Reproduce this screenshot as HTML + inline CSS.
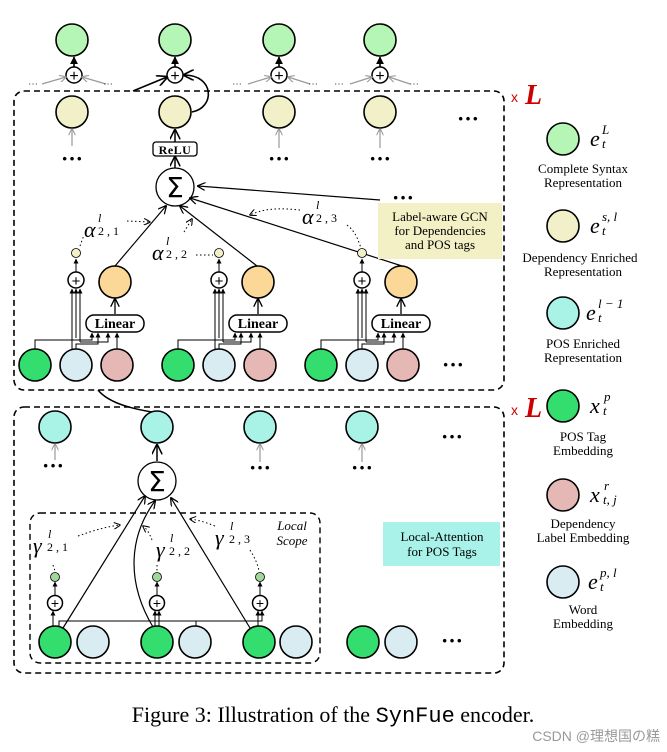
<!DOCTYPE html>
<html><head><meta charset="utf-8"><style>
body{margin:0;background:#fff;}
svg{display:block;font-family:"Liberation Serif",serif;}
</style></head><body>
<svg width="667" height="752" viewBox="0 0 667 752" xmlns="http://www.w3.org/2000/svg">
<defs>
<marker id="a" viewBox="0 0 10 10" refX="9" refY="5" markerWidth="7" markerHeight="7" orient="auto"><path d="M0,0 L10,5 L0,10" fill="none" stroke="#000" stroke-width="1.5"/></marker>
<marker id="g" viewBox="0 0 10 10" refX="9" refY="5" markerWidth="6" markerHeight="6" orient="auto"><path d="M0,0 L10,5 L0,10" fill="none" stroke="#999" stroke-width="1.5"/></marker>
<marker id="f" viewBox="0 0 10 10" refX="9" refY="5" markerWidth="5" markerHeight="5" orient="auto"><path d="M0,0 L10,5 L0,10z" fill="#000"/></marker>
</defs>
<rect x="14" y="91" width="490" height="299" rx="10" fill="none" stroke="#000" stroke-width="1.6" stroke-dasharray="6,4"/>
<rect x="14" y="407" width="490" height="266" rx="10" fill="none" stroke="#000" stroke-width="1.6" stroke-dasharray="6,4"/>
<rect x="30" y="513" width="290" height="150" rx="10" fill="none" stroke="#000" stroke-width="1.4" stroke-dasharray="6,4"/>
<text x="511" y="102" font-family="Liberation Sans" font-size="14" fill="#c00">x</text>
<text x="525" y="104" font-size="28" font-weight="bold" font-style="italic" fill="#c00">L</text>
<text x="511" y="415" font-family="Liberation Sans" font-size="14" fill="#c00">x</text>
<text x="525" y="417" font-size="28" font-weight="bold" font-style="italic" fill="#c00">L</text>

<g stroke="#000" stroke-width="1.6">
<circle cx="72" cy="40" r="16" fill="#b5f5b5"/><circle cx="175" cy="40" r="16" fill="#b5f5b5"/><circle cx="279" cy="40" r="16" fill="#b5f5b5"/><circle cx="380" cy="40" r="16" fill="#b5f5b5"/>
<circle cx="72" cy="112" r="16" fill="#f2f0c8"/><circle cx="175" cy="112" r="16" fill="#f2f0c8"/><circle cx="279" cy="112" r="16" fill="#f2f0c8"/><circle cx="380" cy="112" r="16" fill="#f2f0c8"/>
</g>
<g stroke="#000" stroke-width="1.5" fill="#fff">
<circle cx="74" cy="75" r="8"/><circle cx="175" cy="75" r="8"/><circle cx="279" cy="75" r="8"/><circle cx="380" cy="75" r="8"/>
</g>
<g font-size="16" text-anchor="middle" font-family="Liberation Sans"><text x="74" y="81">+</text><text x="175" y="81">+</text><text x="279" y="81">+</text><text x="380" y="81">+</text></g>
<g stroke="#000" stroke-width="1.6" marker-end="url(#f)">
<line x1="74" y1="67" x2="74" y2="57"/><line x1="175" y1="67" x2="175" y2="57"/><line x1="279" y1="67" x2="279" y2="57"/><line x1="380" y1="67" x2="380" y2="57"/>
</g>
<g stroke="#999" stroke-width="1.2" marker-end="url(#g)">
<line x1="42" y1="84" x2="66" y2="77"/><line x1="106" y1="84" x2="82" y2="77"/>
<line x1="248" y1="84" x2="271" y2="77"/><line x1="310" y1="84" x2="288" y2="77"/>
<line x1="350" y1="84" x2="372" y2="77"/><line x1="410" y1="84" x2="389" y2="77"/>
<line x1="72" y1="146" x2="72" y2="129"/><line x1="279" y1="148" x2="279" y2="129"/><line x1="380" y1="148" x2="380" y2="129"/>
</g>
<g fill="#333" font-size="10"><text x="28" y="87">⋯</text><text x="103" y="87">⋯</text><text x="232" y="87">⋯</text><text x="308" y="87">⋯</text><text x="334" y="87">⋯</text><text x="409" y="87">⋯</text></g>
<path d="M133,91 L167,77" stroke="#000" stroke-width="1.6" fill="none" marker-end="url(#a)"/>
<path d="M192,112 C215,108 215,75 184,75" stroke="#000" stroke-width="1.6" fill="none" marker-end="url(#a)"/>
<g font-size="22" font-weight="bold" text-anchor="middle"><text x="72" y="166">···</text><text x="279" y="166">···</text><text x="380" y="166">···</text><text x="468" y="126">···</text><text x="403" y="205">···</text><text x="453" y="372">···</text>
<text x="53" y="473">···</text><text x="260" y="475">···</text><text x="362" y="475">···</text><text x="452" y="444">···</text><text x="452" y="648">···</text></g>
<line x1="175" y1="142" x2="175" y2="130" stroke="#000" stroke-width="1.5" marker-end="url(#a)"/>
<rect x="153" y="142" width="44" height="14" rx="3" fill="#fff" stroke="#000" stroke-width="1.3"/>
<text x="175" y="154" font-size="12" font-weight="bold" text-anchor="middle" letter-spacing="0.5">ReLU</text>
<line x1="175" y1="168" x2="175" y2="157" stroke="#000" stroke-width="1.5" marker-end="url(#a)"/>
<circle cx="175" cy="187" r="19" fill="#fff" stroke="#000" stroke-width="1.3"/>
<text x="175" y="197" font-size="28" font-family="DejaVu Sans" text-anchor="middle">Σ</text>
<g stroke="#000" stroke-width="1.2" fill="none" marker-end="url(#a)">
<line x1="380" y1="200" x2="198" y2="186"/>
<line x1="115" y1="266" x2="166" y2="206"/>
<line x1="257" y1="266" x2="180" y2="206"/>
<line x1="402" y1="266" x2="190" y2="198"/>
</g>
<g stroke="#000" stroke-width="1" fill="none" stroke-dasharray="1.5,2.5" marker-end="url(#a)">
<path d="M127,221 L150,222"/><path d="M184,232 L192,219"/><path d="M300,210 C280,208 265,208 250,215"/>
</g>
<g stroke="#000" stroke-width="1" fill="none" stroke-dasharray="1.5,2.5">
<path d="M80,246 L84,235"/><path d="M196,255 L213,255"/><path d="M347,225 C356,232 358,240 361,248"/>
</g>
<g font-style="italic"><text x="84" y="237" font-size="22">α</text><text x="152" y="260" font-size="22">α</text><text x="302" y="224" font-size="22">α</text></g>
<g font-size="12"><text x="98" y="222" font-style="italic">l</text><text x="98" y="235">2 , 1</text><text x="166" y="245" font-style="italic">l</text><text x="166" y="258">2 , 2</text><text x="316" y="209" font-style="italic">l</text><text x="316" y="222">2 , 3</text></g>
<rect x="378" y="203" width="124" height="56" fill="#f3f0c6"/>
<g font-size="13" text-anchor="middle"><text x="440" y="221">Label-aware GCN</text><text x="440" y="235">for Dependencies</text><text x="440" y="249">and POS tags</text></g>
<g id="unit">
<g stroke="#000" stroke-width="1">
<polyline points="35,349 35,340 72,340" fill="none"/>
<line x1="72" y1="349" x2="72" y2="289" marker-end="url(#f)"/><line x1="76" y1="338" x2="76" y2="289" marker-end="url(#f)"/><line x1="80" y1="342" x2="80" y2="289" marker-end="url(#f)"/>
<polyline points="76,349 76,344 98,344 98,333" fill="none" marker-end="url(#f)"/>
<polyline points="80,342 108,342 108,333" fill="none" marker-end="url(#f)"/>
<polyline points="35,340 92,340 92,333" fill="none" marker-end="url(#f)"/>
<line x1="117" y1="349" x2="117" y2="333" marker-end="url(#f)"/>
<line x1="76" y1="272" x2="76" y2="259" marker-end="url(#f)"/>
<line x1="115" y1="314" x2="115" y2="299" stroke-width="1.3" marker-end="url(#a)"/>
</g>
<rect x="86" y="315" width="58" height="17" rx="8" fill="#fff" stroke="#000" stroke-width="1.5"/>
<text x="115" y="328" font-size="14" font-weight="bold" text-anchor="middle">Linear</text>
<circle cx="76" cy="280" r="8" fill="#fff" stroke="#000" stroke-width="1.5"/>
<text x="76" y="286" font-size="15" text-anchor="middle" font-family="Liberation Sans">+</text>
<circle cx="76" cy="253" r="4.5" fill="#f2f0c8" stroke="#000" stroke-width="0.8"/>
<circle cx="115" cy="282" r="16" fill="#fbd898" stroke="#000" stroke-width="1.6"/>
<circle cx="35" cy="365" r="16" fill="#33dd6e" stroke="#000" stroke-width="1.6"/>
<circle cx="76" cy="365" r="16" fill="#d9ecf2" stroke="#000" stroke-width="1.6"/>
<circle cx="117" cy="365" r="16" fill="#e5b8b5" stroke="#000" stroke-width="1.6"/>
</g>
<use href="#unit" x="143"/>
<use href="#unit" x="286"/>
<path d="M98,390 C110,405 140,410 152,412" stroke="#000" stroke-width="1.5" fill="none"/>
<g stroke="#000" stroke-width="1.6" fill="#a8f2e6">
<circle cx="55" cy="427" r="16"/><circle cx="157" cy="427" r="16"/><circle cx="260" cy="427" r="16"/><circle cx="362" cy="427" r="16"/>
</g>
<g stroke="#999" stroke-width="1.2" marker-end="url(#g)">
<line x1="55" y1="460" x2="55" y2="444"/><line x1="260" y1="462" x2="260" y2="444"/><line x1="362" y1="462" x2="362" y2="444"/>
</g>
<line x1="157" y1="461" x2="157" y2="445" stroke="#000" stroke-width="1.5" marker-end="url(#a)"/>
<circle cx="157" cy="481" r="19" fill="#fff" stroke="#000" stroke-width="1.3"/>
<text x="157" y="491" font-size="28" font-family="DejaVu Sans" text-anchor="middle">Σ</text>
<g stroke="#000" stroke-width="1.2" fill="none" marker-end="url(#a)">
<line x1="63" y1="628" x2="145" y2="496"/>
<path d="M153,627 C125,580 130,535 155,501"/>
<line x1="250" y1="628" x2="171" y2="498"/>
</g>
<g stroke="#000" stroke-width="1" fill="none" stroke-dasharray="1.5,2.5">
<path d="M78,536 C95,530 105,527 120,525" marker-end="url(#a)"/>
<path d="M152,540 C150,535 148,530 143,526" marker-end="url(#a)"/>
<path d="M215,526 C205,522 198,520 190,519" marker-end="url(#a)"/>
<path d="M53,565 L55,571"/><path d="M157,565 L157,571"/><path d="M250,550 C255,558 258,565 259,571"/>
</g>
<g font-style="italic" font-size="22"><text x="33" y="553">γ</text><text x="156" y="557">γ</text><text x="215" y="545">γ</text></g>
<g font-size="12"><text x="48" y="538" font-style="italic">l</text><text x="47" y="551">2 , 1</text><text x="170" y="542" font-style="italic">l</text><text x="169" y="555">2 , 2</text><text x="230" y="530" font-style="italic">l</text><text x="229" y="543">2 , 3</text></g>
<g font-style="italic" font-size="13" text-anchor="middle"><text x="292" y="530">Local</text><text x="292" y="545">Scope</text></g>
<rect x="383" y="522" width="117" height="44" fill="#a8f2ea"/>
<g font-size="13" text-anchor="middle"><text x="442" y="541">Local-Attention</text><text x="442" y="556">for POS Tags</text></g>
<g stroke="#000" stroke-width="1">
<polyline points="59,626 59,621 262,621 262,611" fill="none" marker-end="url(#f)"/>
<line x1="196" y1="626" x2="196" y2="621"/>
<line x1="53" y1="626" x2="53" y2="611" marker-end="url(#f)"/><line x1="155" y1="626" x2="155" y2="611" marker-end="url(#f)"/><line x1="159" y1="626" x2="159" y2="611" marker-end="url(#f)"/><line x1="258" y1="626" x2="258" y2="611" marker-end="url(#f)"/>
<line x1="55" y1="596" x2="55" y2="582" marker-end="url(#f)"/><line x1="157" y1="596" x2="157" y2="582" marker-end="url(#f)"/><line x1="260" y1="596" x2="260" y2="582" marker-end="url(#f)"/>
</g>
<g stroke="#000" stroke-width="1.5" fill="#fff"><circle cx="55" cy="603" r="7.5"/><circle cx="157" cy="603" r="7.5"/><circle cx="260" cy="603" r="7.5"/></g>
<g font-size="14" text-anchor="middle" font-family="Liberation Sans"><text x="55" y="608">+</text><text x="157" y="608">+</text><text x="260" y="608">+</text></g>
<g stroke="#000" stroke-width="0.8" fill="#9fd89a"><circle cx="55" cy="577" r="4.5"/><circle cx="157" cy="577" r="4.5"/><circle cx="260" cy="577" r="4.5"/></g>
<g stroke="#000" stroke-width="1.6">
<circle cx="55" cy="642" r="16" fill="#33dd6e"/><circle cx="93" cy="642" r="16" fill="#d9ecf2"/>
<circle cx="157" cy="642" r="16" fill="#33dd6e"/><circle cx="195" cy="642" r="16" fill="#d9ecf2"/>
<circle cx="259" cy="642" r="16" fill="#33dd6e"/><circle cx="296" cy="642" r="16" fill="#d9ecf2"/>
<circle cx="363" cy="642" r="16" fill="#33dd6e"/><circle cx="401" cy="642" r="16" fill="#d9ecf2"/>
</g>
<g stroke="#000" stroke-width="1.6">
<circle cx="563" cy="139" r="16" fill="#b5f5b5"/><circle cx="563" cy="226" r="16" fill="#f2f0c8"/><circle cx="563" cy="313" r="16" fill="#a8f2e6"/>
<circle cx="563" cy="406" r="16" fill="#33dd6e"/><circle cx="563" cy="495" r="16" fill="#e5b8b5"/><circle cx="563" cy="582" r="16" fill="#d9ecf2"/>
</g>
<g font-style="italic" font-size="22"><text x="590" y="146">e</text><text x="590" y="233">e</text><text x="586" y="320">e</text><text x="590" y="413">x</text><text x="590" y="502">x</text><text x="588" y="589">e</text></g>
<g font-style="italic" font-size="13"><text x="602" y="134">L</text><text x="602" y="148">t</text><text x="602" y="221">s, l</text><text x="602" y="235">t</text><text x="598" y="308">l − 1</text><text x="598" y="322">t</text><text x="604" y="401">p</text><text x="603" y="415">t</text><text x="604" y="490">r</text><text x="603" y="504">t, j</text><text x="600" y="577">p, l</text><text x="600" y="591">t</text></g>
<g font-size="13" text-anchor="middle">
<text x="583" y="173">Complete Syntax</text><text x="583" y="187">Representation</text>
<text x="580" y="262">Dependency Enriched</text><text x="583" y="276">Representation</text>
<text x="583" y="348">POS Enriched</text><text x="583" y="362">Representation</text>
<text x="583" y="441">POS Tag</text><text x="583" y="455">Embedding</text>
<text x="583" y="528">Dependency</text><text x="583" y="542">Label Embedding</text>
<text x="583" y="614">Word</text><text x="583" y="628">Embedding</text>
</g>
<text x="333" y="722" font-size="22" text-anchor="middle">Figure 3: Illustration of the <tspan font-family="Liberation Mono">SynFue</tspan> encoder.</text>
<text x="660" y="741" font-size="14" text-anchor="end" fill="#999" font-family="Liberation Sans, Noto Sans CJK SC, sans-serif">CSDN @理想国の糕</text>
</svg>
</body></html>
